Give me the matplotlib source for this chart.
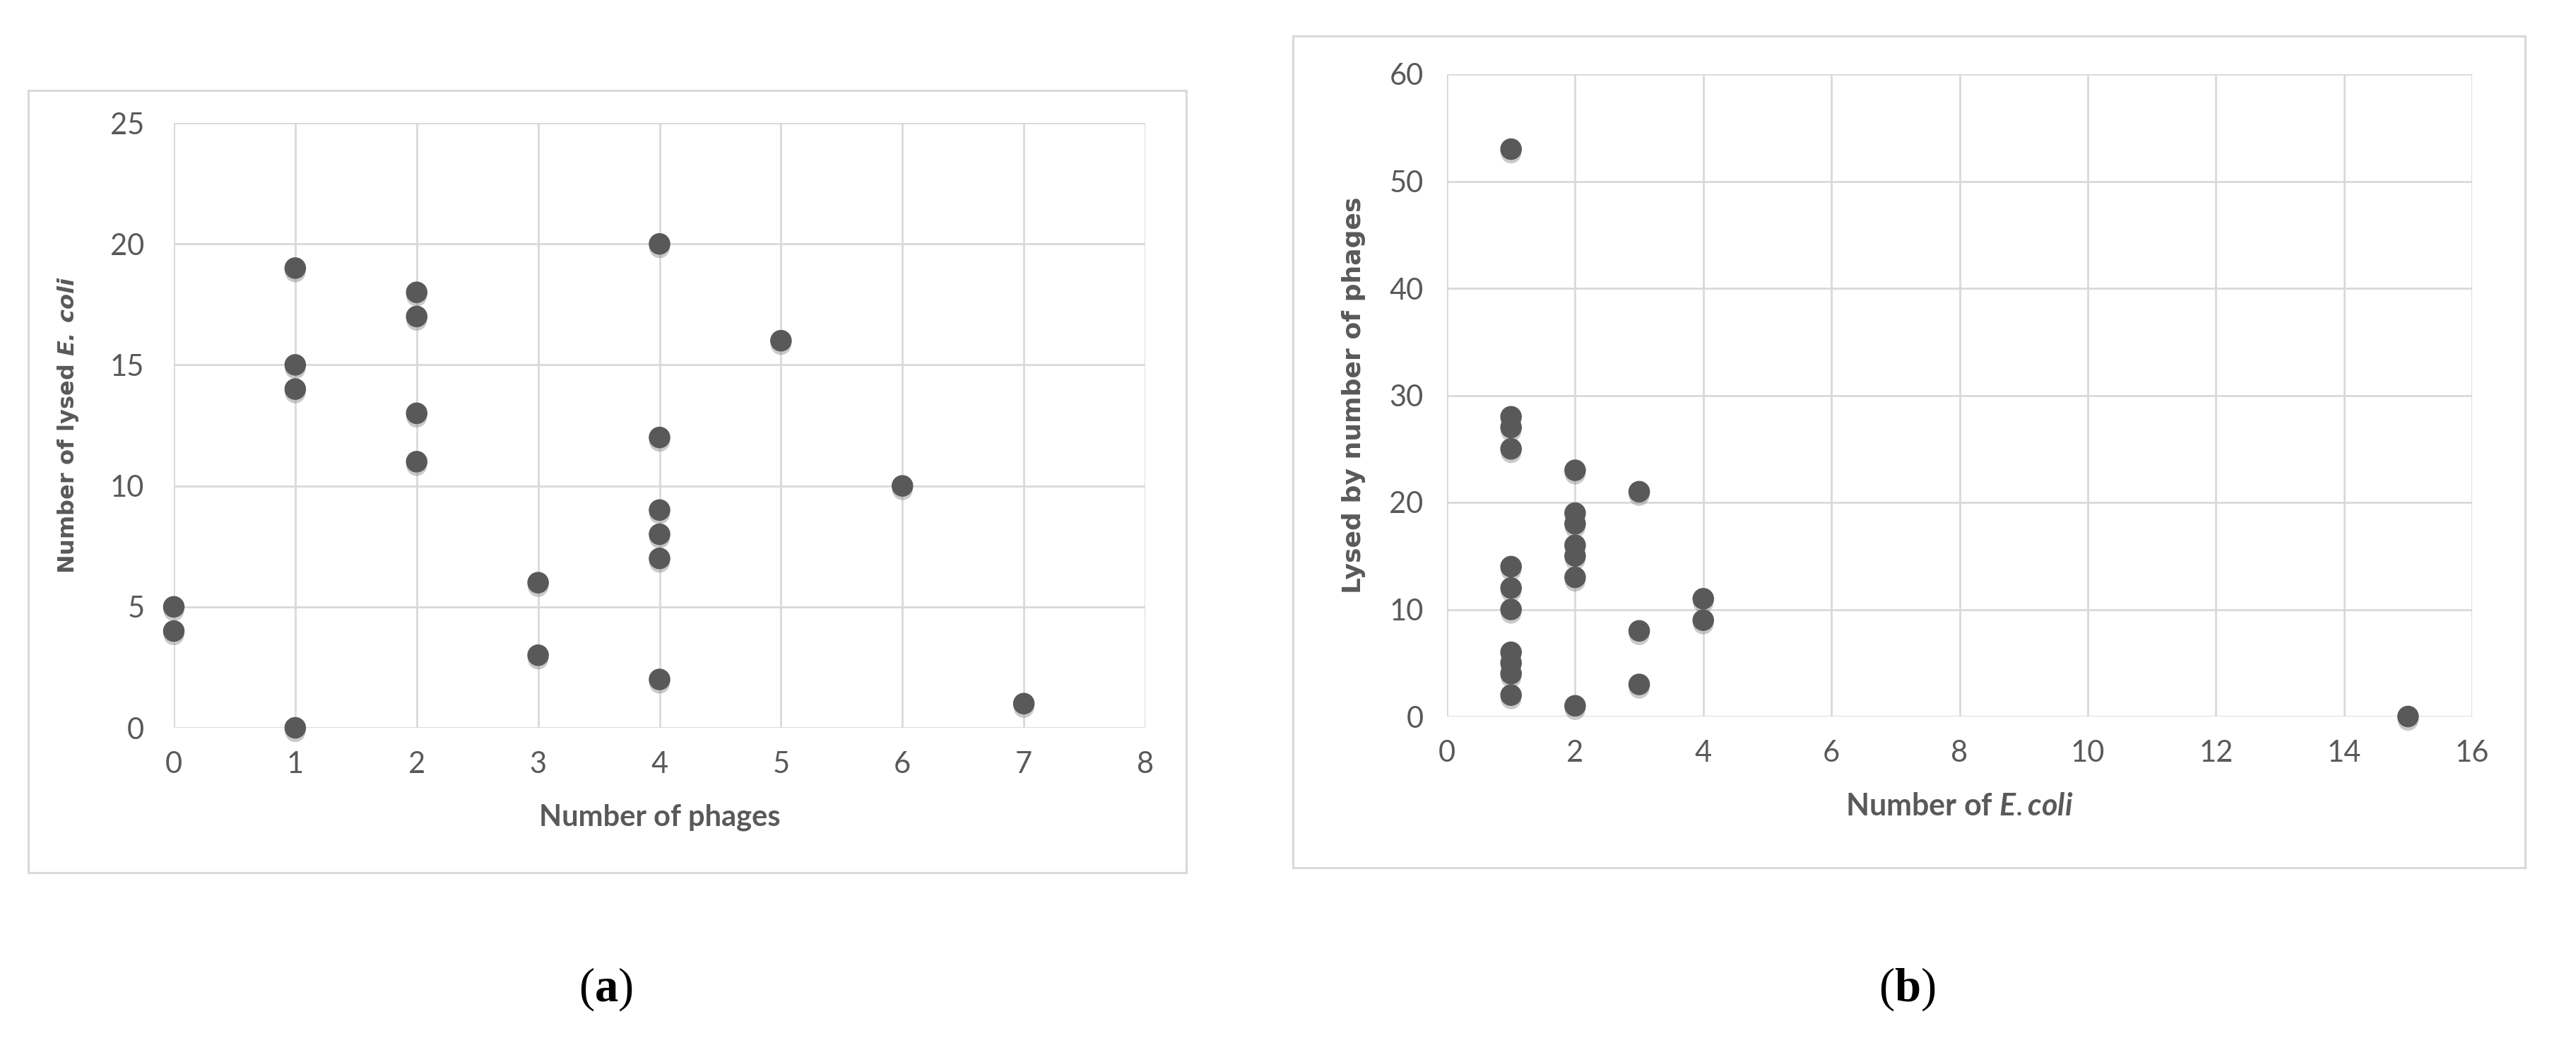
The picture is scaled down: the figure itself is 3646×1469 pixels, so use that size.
import matplotlib
matplotlib.use("Agg")
import matplotlib.pyplot as plt
import matplotlib.patheffects as pe
from matplotlib.patches import Rectangle

# chart (a): number of phages vs number of lysed E. coli
phages = [0, 0, 1, 1, 1, 1, 2, 2, 2, 2, 3, 3, 4, 4, 4, 4, 4, 4, 5, 6, 7]
lysed_ecoli = [5, 4, 19, 15, 14, 0, 18, 17, 13, 11, 6, 3, 20, 12, 9, 8, 7, 2, 16, 10, 1]

# chart (b): number of E. coli vs lysed by number of phages
ecoli = [1, 1, 1, 1, 1, 1, 1, 1, 1, 1, 1,
         2, 2, 2, 2, 2, 2, 2,
         3, 3, 3,
         4, 4,
         15]
lysed_phages = [53, 28, 27, 25, 14, 12, 10, 6, 5, 4, 2,
                23, 19, 18, 16, 15, 13, 1,
                21, 8, 3,
                11, 9,
                0]

xticks_a = list(range(0, 9))
yticks_a = [0, 5, 10, 15, 20, 25]
xticks_b = [0, 2, 4, 6, 8, 10, 12, 14, 16]
yticks_b = [0, 10, 20, 30, 40, 50, 60]

plt.rcParams["mathtext.fontset"] = "custom"
plt.rcParams["mathtext.rm"] = "Lato"
plt.rcParams["mathtext.it"] = "Lato:italic:bold"
plt.rcParams["mathtext.bf"] = "Liberation Serif:bold"
plt.rcParams["mathtext.bfit"] = "DejaVu Sans:italic:bold"

W, H = 3646, 1469
dot = "#595959"
grid = "#d9d9d9"
tick_font = "Lato"

fig = plt.figure(figsize=(W / 100, H / 100), dpi=100)
fig.patch.set_facecolor("white")


def frac(x0, y0, x1, y1):
    # pixel box -> figure fraction [left, bottom, width, height]
    return [x0 / W, 1 - y1 / H, (x1 - x0) / W, (y1 - y0) / H]


# outer chart frames
for box in [(40, 128, 1679, 1235), (1830, 51, 3574, 1228)]:
    l, b, w, h = frac(*box)
    fig.patches.append(Rectangle((l, b), w, h, transform=fig.transFigure,
                                 facecolor="none", edgecolor=grid, linewidth=2.2))


def style(ax, xt, yt, ypad):
    ax.set_xticks(xt)
    ax.set_yticks(yt)
    ax.set_xlim(xt[0], xt[-1])
    ax.set_ylim(yt[0], yt[-1])
    ax.grid(True, color=grid, linewidth=2)
    ax.set_axisbelow(True)
    for s in ax.spines.values():
        s.set_visible(False)
    ax.tick_params(length=0, labelsize=30, labelcolor=dot)
    ax.tick_params(axis="x", pad=24)
    ax.tick_params(axis="y", pad=ypad)
    for lab in ax.get_xticklabels() + ax.get_yticklabels():
        lab.set_fontfamily(tick_font)


shadow = [pe.SimplePatchShadow(offset=(0, -4), shadow_rgbFace="#888888", alpha=0.45), pe.Normal()]

# (a)
ax1 = fig.add_axes(frac(246, 174, 1621, 1030))
style(ax1, xticks_a, yticks_a, 30)
sc = ax1.scatter(phages, lysed_ecoli, s=440, color=dot, clip_on=False, zorder=3)
sc.set_path_effects(shadow)
ax1.set_xlabel("Number of phages", fontsize=30, fontweight="bold", color=dot,
               family="Lato", labelpad=26)
ax1.set_ylabel("Number of lysed $\\mathbfit{E.\\ coli}$", fontsize=23, fontweight="bold",
               color=dot, family="DejaVu Sans", labelpad=30)

# (b)
ax2 = fig.add_axes(frac(2048, 105, 3499, 1014))
style(ax2, xticks_b, yticks_b, 24)
sc = ax2.scatter(ecoli, lysed_phages, s=440, color=dot, clip_on=False, zorder=3)
sc.set_path_effects(shadow)
ax2.set_xlabel("Number of $\\it{E. coli}$", fontsize=31, fontweight="bold", color=dot,
               family="Lato", labelpad=26)
ax2.set_ylabel("Lysed by number of phages", fontsize=26, fontweight="bold",
               color=dot, family="DejaVu Sans", labelpad=24)

# panel letters
fig.text(857 / W, 1 - 1400 / H, "($\\mathbf{a}$)", fontsize=48, ha="center", va="center",
         family="Liberation Serif")
fig.text(2699 / W, 1 - 1400 / H, "($\\mathbf{b}$)", fontsize=48, ha="center", va="center",
         family="Liberation Serif")

fig.savefig("out.png", dpi=100, facecolor="white")
